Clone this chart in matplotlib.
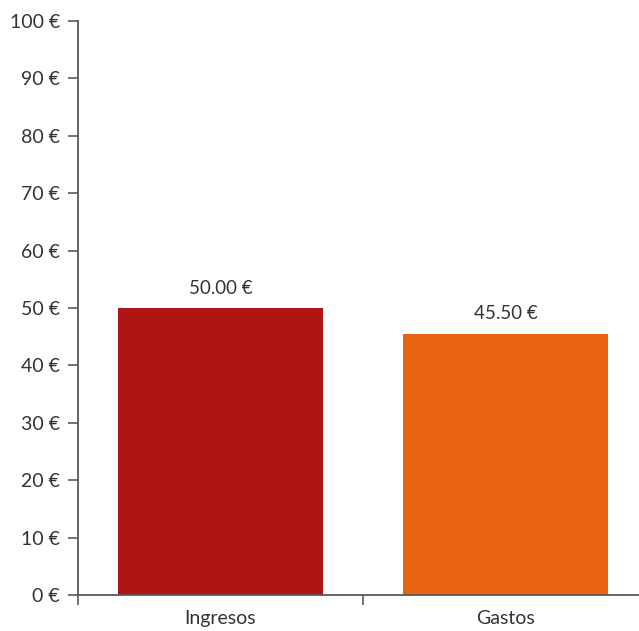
import matplotlib
matplotlib.use("Agg")
import matplotlib.pyplot as plt
from matplotlib.ticker import FuncFormatter, FixedLocator

categories = ["Ingresos", "Gastos"]
values = [50.00, 45.50]
colors = ["#B01515", "#E86412"]
y_ticks = list(range(0, 101, 10))

plt.rcParams["font.family"] = ["Lato", "DejaVu Sans"]

fig = plt.figure(figsize=(6.39, 6.31), dpi=100)
ax = fig.add_axes([78 / 639, 1 - 595 / 631, (648 - 78) / 639, (595 - 21) / 631])

x = list(range(len(categories)))
bars = ax.bar(x, values, width=0.72, color=colors, zorder=2)
for b, v in zip(bars, values):
    ax.text(b.get_x() + b.get_width() / 2, v + 2.0, f"{v:.2f} €",
            ha="center", va="bottom", fontsize=13.5, color="#333333")

ax.set_xlim(-0.5, len(categories) - 0.5)
ax.set_ylim(0, 100)
ax.set_yticks(y_ticks)
ax.yaxis.set_major_formatter(FuncFormatter(lambda v, _: f"{v:.0f} €"))

# category labels centered, tick marks on boundaries
ax.set_xticks(x)
ax.set_xticklabels(categories)
ax.tick_params(axis="x", which="major", length=0, pad=11, labelsize=14, labelcolor="#333333")
ax.xaxis.set_minor_locator(FixedLocator([i - 0.5 for i in range(len(categories) + 1)]))
ax.tick_params(axis="x", which="minor", length=7, width=1.2, color="#595959")
ax.tick_params(axis="y", length=7, width=1.2, color="#595959", pad=6,
               labelsize=14, labelcolor="#333333")

for s in ["top", "right"]:
    ax.spines[s].set_visible(False)
for s in ["left", "bottom"]:
    ax.spines[s].set_color("#595959")
    ax.spines[s].set_linewidth(1.3)
ax.spines["bottom"].set_zorder(3)

fig.savefig("out.png", dpi=100)
